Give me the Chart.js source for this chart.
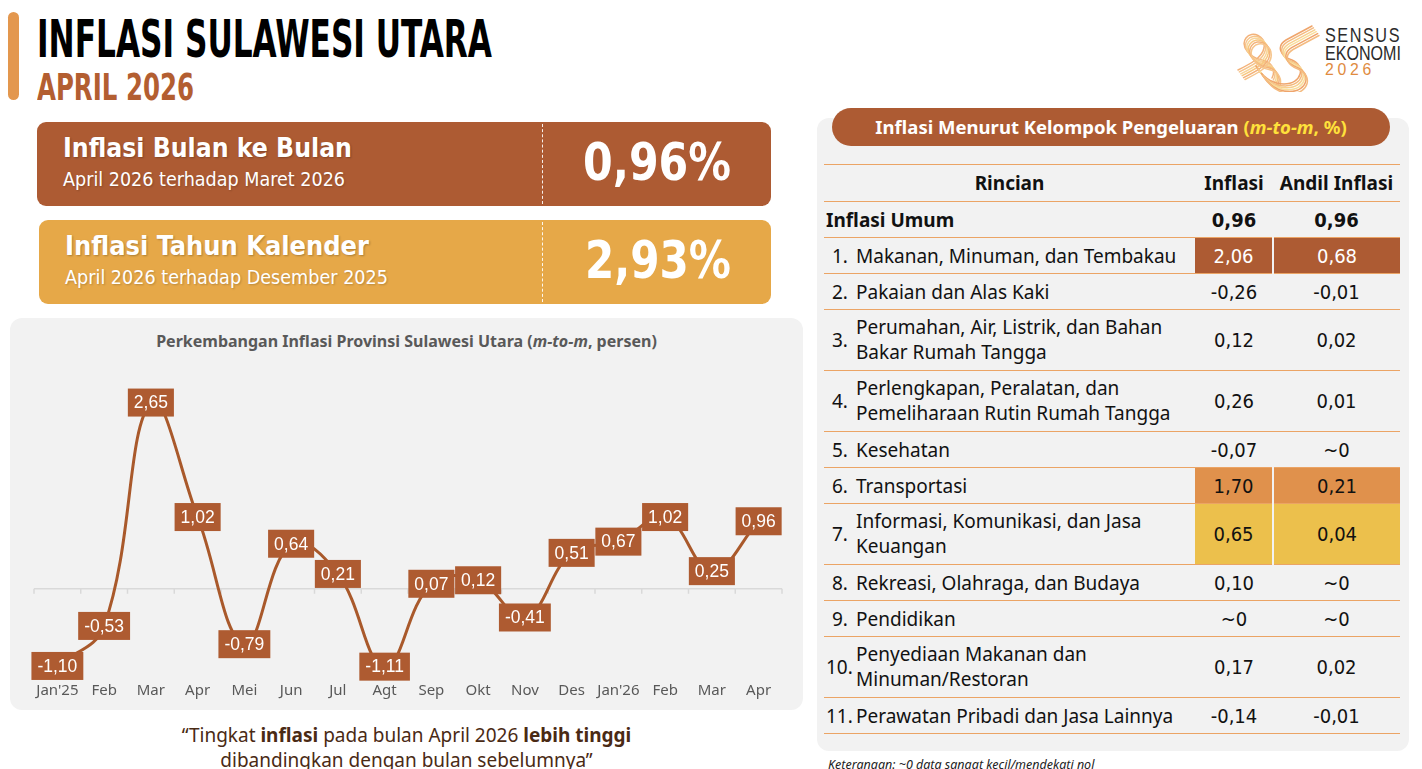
<!DOCTYPE html>
<html lang="id">
<head>
<meta charset="UTF-8">
<title>Inflasi Sulawesi Utara April 2026</title>
<script src="https://cdn.jsdelivr.net/npm/chart.js"></script>
<style>
    body { margin: 0; width: 1422px; height: 769px; overflow: hidden; background: #fff; font-family: "Noto Sans", sans-serif; position: relative; }
    .abs { position: absolute; }
    .fit { white-space: nowrap; display: inline-block; transform-origin: left center; }
    .narrow { font-family: "Liberation Sans Narrow", "DejaVu Sans Condensed", sans-serif; }
    .bar { left: 8px; top: 12px; width: 11px; height: 88px; border-radius: 6px; background: #e3974e; }
    .card { left: 37px; width: 734px; height: 84px; border-radius: 9px; }
    .card .dash { position: absolute; left: 505px; top: 2px; bottom: 2px; border-left: 1.5px dashed rgba(255,255,255,0.9); }
    .card .t1 { position: absolute; left: 26px; top: 10px; color: #fff; font-weight: bold; font-size: 27px; text-shadow: 1px 1px 2px rgba(0,0,0,0.25); }
    .card .t2 { position: absolute; left: 26px; top: 46px; color: #fff; font-size: 19px; text-shadow: 1px 1px 2px rgba(0,0,0,0.2); }
    .card .big { position: absolute; left: 546px; top: 10px; color: #fff; font-weight: bold; font-size: 52px; }
    .panel { background: #f2f2f2; border-radius: 12px; }
    .logo { font-family: "Liberation Sans", Arial, sans-serif; line-height: 18px; }
    #tbl { position: absolute; left: 824px; top: 164px; width: 576px; border-collapse: collapse; table-layout: fixed; font-size: 19px; color: #111; }
    #tbl td, #tbl th { padding: 0; border-bottom: 1.5px solid #eba465; vertical-align: middle; }
    #tbl tr.top th { border-top: 1.5px solid #eba465; }
    #tbl th { height: 36px; font-weight: bold; font-size: 19px; }
    #tbl td { height: 35px; }
    #tbl td.multi { line-height: 25px; padding: 5px 0; }
    #tbl .num { text-align: center; font-family: "Liberation Sans Narrow", "DejaVu Sans Condensed", sans-serif; font-size: 20px; }
    #tbl .no { padding-left: 8px; }
</style>
</head>
<body>
<div class="abs bar"></div>
<div class="abs fit narrow" id="title" style="left:37px;top:10px;font-size:51px;font-weight:bold;color:#000;">INFLASI SULAWESI UTARA</div>
<div class="abs fit narrow" id="subtitle" style="left:37px;top:65px;font-size:38px;font-weight:bold;color:#b35e31;">APRIL 2026</div>

<svg class="abs" style="left:1230px;top:18px;" width="95" height="74" viewBox="1230 18 95 74">
    <g fill="none" stroke-linecap="round">
        <g id="rib1">
            <path d="M1238,70 C1250,64 1262,58 1264,48 C1266,36 1252,30 1246,38 C1240,46 1250,58 1262,60 C1272,62 1276,70 1272,78" />
        </g>
        <g id="rib2">
            <path d="M1312,26 L1286,40 C1276,46 1280,56 1292,60 C1306,66 1302,84 1284,84 C1270,84 1262,76 1256,66" />
        </g>
    </g>
</svg>
<div class="abs fit logo" id="lg1" style="left:1325px;top:26px;font-size:21px;letter-spacing:2px;color:#2b2b2b;">SENSUS</div>
<div class="abs fit logo" id="lg2" style="left:1325px;top:44px;font-size:21px;color:#2b2b2b;">EKONOMI</div>
<div class="abs fit logo" id="lg3" style="left:1325px;top:61px;font-size:17px;letter-spacing:4px;color:#e08b3f;">2026</div>

<div class="abs card" style="top:122px;background:#ad5b33;">
    <div class="dash"></div>
    <div class="fit narrow t1" id="c1a">Inflasi Bulan ke Bulan</div>
    <div class="fit narrow t2" id="c1b">April 2026 terhadap Maret 2026</div>
    <div class="fit narrow big" id="c1c">0,96%</div>
</div>
<div class="abs card" style="top:220px;left:39px;width:732px;background:#e6a848;">
    <div class="dash" style="left:503px;"></div>
    <div class="fit narrow t1" id="c2a">Inflasi Tahun Kalender</div>
    <div class="fit narrow t2" id="c2b">April 2026 terhadap Desember 2025</div>
    <div class="fit narrow big" id="c2c">2,93%</div>
</div>

<div class="abs panel" style="left:10px;top:318px;width:793px;height:392px;">
    <div class="abs" style="left:0;width:793px;top:12px;text-align:center;font-size:16px;font-weight:bold;color:#595959;">Perkembangan Inflasi Provinsi Sulawesi Utara (<i>m-to-m</i>, persen)</div>
    <div class="abs" style="left:0;top:0;width:793px;height:392px;"><canvas id="chart"></canvas></div>
</div>

<div class="abs" style="left:10px;width:793px;top:723px;text-align:center;font-size:19px;line-height:25px;color:#4a2a14;">“Tingkat <b>inflasi</b> pada bulan April 2026 <b>lebih tinggi</b><br>dibandingkan dengan bulan sebelumnya”</div>

<div class="abs panel" style="left:817px;top:118px;width:592px;height:633px;"></div>
<div class="abs" style="left:832px;top:108px;width:558px;height:38px;border-radius:19px;background:#ad5b33;color:#fff;font-weight:bold;font-size:18.5px;line-height:38px;text-align:center;">Inflasi Menurut Kelompok Pengeluaran <span style="color:#ffe13b;">(<i>m-to-m</i>, %)</span></div>
<table id="tbl">
    <colgroup><col style="width:32px"><col style="width:339px"><col style="width:78px"><col style="width:127px"></colgroup>
    <thead>
        <tr class="top"><th colspan="2">Rincian</th><th>Inflasi</th><th>Andil Inflasi</th></tr>
    </thead>
    <tbody></tbody>
</table>
<div class="abs" style="left:828px;top:756px;font-size:12.5px;font-style:italic;color:#222;">Keterangan: ~0 data sangat kecil/mendekati nol</div>

<script>
    // data grafik
    const months = ["Jan'25", "Feb", "Mar", "Apr", "Mei", "Jun", "Jul", "Agt", "Sep", "Okt", "Nov", "Des", "Jan'26", "Feb", "Mar", "Apr"];
    const mtm = [-1.10, -0.53, 2.65, 1.02, -0.79, 0.64, 0.21, -1.11, 0.07, 0.12, -0.41, 0.51, 0.67, 1.02, 0.25, 0.96];

    // data tabel
    const umumInflasi = "0,96";
    const umumAndil = "0,96";
    const groupNo = ["1.", "2.", "3.", "4.", "5.", "6.", "7.", "8.", "9.", "10.", "11."];
    const groupName = [
        "Makanan, Minuman, dan Tembakau",
        "Pakaian dan Alas Kaki",
        "Perumahan, Air, Listrik, dan Bahan\nBakar Rumah Tangga",
        "Perlengkapan, Peralatan, dan\nPemeliharaan Rutin Rumah Tangga",
        "Kesehatan",
        "Transportasi",
        "Informasi, Komunikasi, dan Jasa\nKeuangan",
        "Rekreasi, Olahraga, dan Budaya",
        "Pendidikan",
        "Penyediaan Makanan dan\nMinuman/Restoran",
        "Perawatan Pribadi dan Jasa Lainnya"
    ];
    const groupInflasi = ["2,06", "-0,26", "0,12", "0,26", "-0,07", "1,70", "0,65", "0,10", "~0", "0,17", "-0,14"];
    const groupAndil = ["0,68", "-0,01", "0,02", "0,01", "~0", "0,21", "0,04", "~0", "~0", "0,02", "-0,01"];

    const highlight = { 0: ["#ad5b33", "#fff"], 5: ["#e0914c", "#111"], 6: ["#ecc04c", "#111"] };

    function fillTable() {
        const tbody = document.querySelector("#tbl tbody");
        let html = `<tr><td colspan="2" style="font-weight:bold;padding-left:2px;">Inflasi Umum</td>
            <td class="num" style="font-weight:bold;">${umumInflasi}</td><td class="num" style="font-weight:bold;">${umumAndil}</td></tr>`;
        groupName.forEach((name, i) => {
            const multi = name.includes("\n") ? "multi" : "";
            const hl = highlight[i];
            const cs = hl ? `background:${hl[0]};color:${hl[1]};` : "";
            html += `<tr>
                <td class="no" style="${i >= 9 ? 'padding-left:2px;' : ''}">${groupNo[i]}</td>
                <td class="${multi}" style="white-space:pre-line;">${name}</td>
                <td class="num" style="${cs}${hl ? 'border-right:2px solid #f2f2f2;' : ''}">${groupInflasi[i]}</td>
                <td class="num" style="${cs}">${groupAndil[i]}</td>
            </tr>`;
        });
        tbody.innerHTML = html;
    }

    function fitWidth(id, w) {
        const el = document.getElementById(id);
        const r = w / el.getBoundingClientRect().width;
        el.style.transform = `scaleX(${r})`;
    }

    function drawRibbons() {
        const cols1 = ["#f3b27a", "#f6c58c", "#f8d59a", "#f7c77f"];
        const cols2 = ["#efa56c", "#f4bb80", "#f7d08f", "#f9de9c"];
        [["rib1", cols1], ["rib2", cols2]].forEach(([id, cols]) => {
            const g = document.getElementById(id);
            const d = g.querySelector("path").getAttribute("d");
            g.innerHTML = "";
            for (let k = 0; k < 6; k++) {
                const np = document.createElementNS("http://www.w3.org/2000/svg", "path");
                np.setAttribute("d", d);
                np.setAttribute("stroke", cols[k % cols.length]);
                np.setAttribute("stroke-width", "1.5");
                np.setAttribute("transform", `translate(${k * 1.4},${k * 1.9})`);
                g.appendChild(np);
            }
        });
    }

    // garis nol dan tanda tick di antara kategori
    const zeroLinePlugin = {
        id: "zeroLine",
        beforeDatasetsDraw(chart) {
            const { ctx, chartArea, scales } = chart;
            const y0 = scales.y.getPixelForValue(0);
            ctx.save();
            ctx.strokeStyle = "#d9d9d9";
            ctx.lineWidth = 1.5;
            ctx.beginPath();
            ctx.moveTo(chartArea.left, y0);
            ctx.lineTo(chartArea.right, y0);
            const n = months.length;
            for (let i = 0; i <= n; i++) {
                let x;
                if (i === 0) x = chartArea.left;
                else if (i === n) x = chartArea.right;
                else x = (scales.x.getPixelForValue(i - 1) + scales.x.getPixelForValue(i)) / 2;
                ctx.moveTo(x, y0);
                ctx.lineTo(x, y0 + 5);
            }
            ctx.stroke();
            ctx.restore();
        }
    };

    // label nilai dalam kotak
    const valueBoxPlugin = {
        id: "valueBox",
        afterDatasetsDraw(chart) {
            const { ctx } = chart;
            const meta = chart.getDatasetMeta(0);
            ctx.save();
            ctx.font = "17.5px 'Liberation Sans', Arial, sans-serif";
            ctx.textAlign = "center";
            ctx.textBaseline = "middle";
            meta.data.forEach((pt, i) => {
                const txt = mtm[i].toFixed(2).replace(".", ",");
                const w = ctx.measureText(txt).width + 12;
                const h = 28;
                ctx.fillStyle = "#ae5b31";
                ctx.fillRect(pt.x - w / 2, pt.y - h / 2, w, h);
                ctx.fillStyle = "#fff";
                ctx.fillText(txt, pt.x, pt.y + 1);
            });
            ctx.restore();
        }
    };

    function drawChart() {
        const ctx = document.getElementById("chart").getContext("2d");
        new Chart(ctx, {
            type: "line",
            data: {
                labels: months,
                datasets: [{
                    data: mtm,
                    borderColor: "#a9592b",
                    borderWidth: 3,
                    tension: 0.4,
                    pointRadius: 0,
                    fill: false
                }]
            },
            options: {
                responsive: true,
                maintainAspectRatio: false,
                animation: false,
                layout: { padding: { left: 24, right: 21, top: 67, bottom: 8 } },
                plugins: { legend: { display: false }, tooltip: { enabled: false } },
                scales: {
                    x: {
                        offset: true,
                        grid: { display: false, drawTicks: false },
                        border: { display: false },
                        ticks: {
                            color: "#595959", padding: 2, autoSkip: false, maxRotation: 0, minRotation: 0,
                            font: { size: 15, family: "'Noto Sans', sans-serif" }
                        }
                    },
                    y: { display: false, min: -1.3, max: 2.9 }
                }
            },
            plugins: [zeroLinePlugin, valueBoxPlugin]
        });
    }

    fillTable();
    drawRibbons();
    fitWidth("title", 455);
    fitWidth("subtitle", 157);
    fitWidth("c1a", 289);
    fitWidth("c1b", 282);
    fitWidth("c1c", 148);
    fitWidth("c2a", 304);
    fitWidth("c2b", 323);
    fitWidth("c2c", 146);
    fitWidth("lg1", 76);
    fitWidth("lg2", 76);
    fitWidth("lg3", 50);
    drawChart();
</script>
</body>
</html>
